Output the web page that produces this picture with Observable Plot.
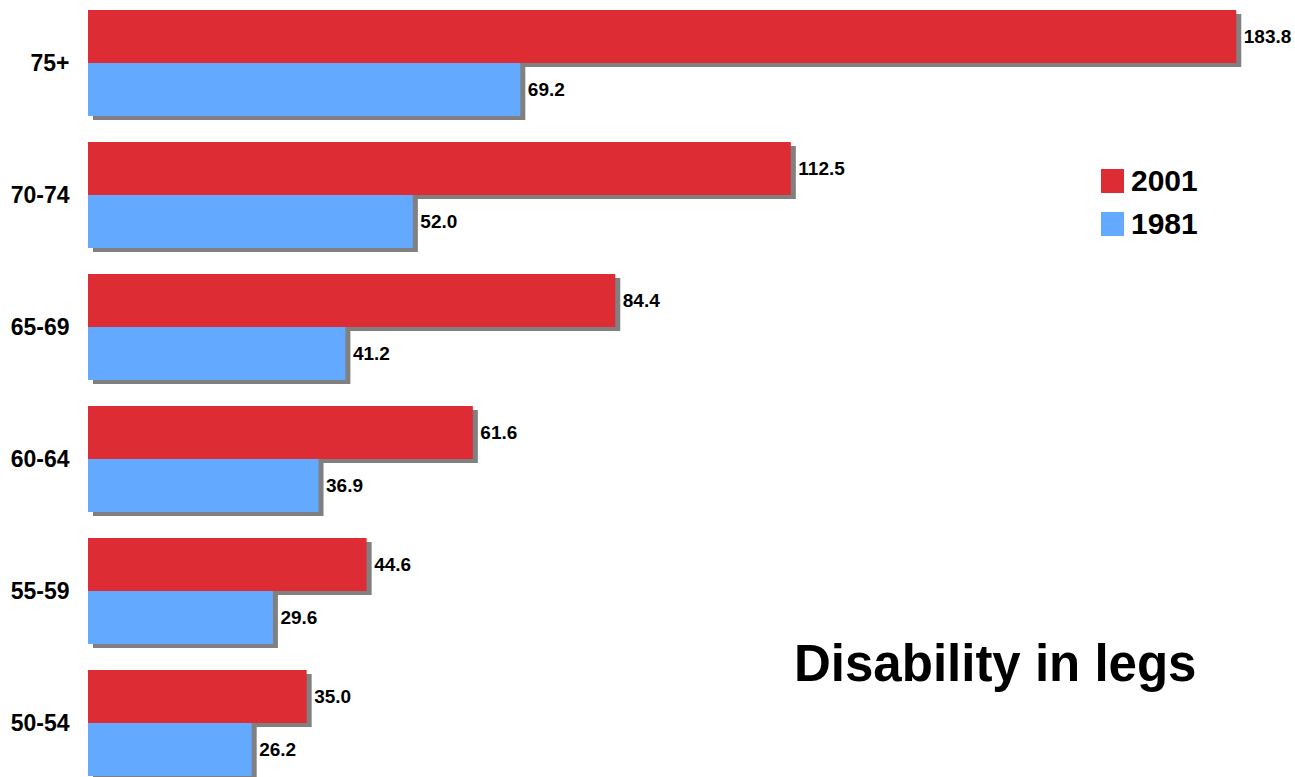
<!DOCTYPE html>
<html>
<head>
<meta charset="utf-8">
<script src="https://cdn.jsdelivr.net/npm/d3@7"></script>
<script src="https://cdn.jsdelivr.net/npm/@observablehq/plot@0.6"></script>
<style>
  html, body { margin: 0; padding: 0; background: #fff; }
  #wrap { position: relative; width: 1295px; height: 777px; font-family: Arial, "Liberation Sans", sans-serif; }
  #wrap svg { font-family: Arial, "Liberation Sans", sans-serif; font-weight: bold; }
  .legend { position: absolute; left: 1101px; top: 159px; font-weight: bold; font-size: 30px; color: #000; }
  .legend .row { display: flex; align-items: center; height: 43px; }
  .legend .sw { width: 23px; height: 24px; margin-right: 7px; }
  .title { position: absolute; left: 794px; top: 634px; font-weight: bold; font-size: 51px; color: #000; white-space: nowrap; }
</style>
</head>
<body>
<div id="wrap"></div>
<script>
const ages = ["75+", "70-74", "65-69", "60-64", "55-59", "50-54"];
const years = ["2001", "1981"];
const v2001 = [183.8, 112.5, 84.4, 61.6, 44.6, 35.0];
const v1981 = [69.2, 52.0, 41.2, 36.9, 29.6, 26.2];
const colors = ["#DD2C34", "#63A9FF"];
const titleText = "Disability in legs";

const data = [];
ages.forEach((a, i) => {
  data.push({age: a, year: "2001", value: v2001[i]});
  data.push({age: a, year: "1981", value: v1981[i]});
});

const chart = Plot.plot({
  width: 1295,
  height: 777,
  marginLeft: 88,
  marginRight: 20,
  marginTop: 9,
  marginBottom: 1,
  x: {domain: [0, 190], axis: null},
  y: {domain: years, axis: null, padding: 0},
  fy: {domain: ages, paddingInner: 0.198, paddingOuter: 0, label: null},
  color: {domain: years, range: colors},
  marks: [
    Plot.axisFy({anchor: "left", tickSize: 0, tickPadding: 19, label: null, fontSize: 23, fontWeight: "bold", fill: "#000"}),
    Plot.barX(data, {x: "value", y: "year", fy: "age", fill: "#808080", dx: 5, dy: 4}),
    Plot.barX(data, {x: "value", y: "year", fy: "age", fill: "year"}),
    Plot.text(data, {x: "value", y: "year", fy: "age", text: d => d.value.toFixed(1), textAnchor: "start", dx: 7, fontSize: 19, fontWeight: "bold", fill: "#000"})
  ]
});

const wrap = document.getElementById("wrap");
wrap.appendChild(chart);

const legend = document.createElement("div");
legend.className = "legend";
years.forEach((y, i) => {
  const row = document.createElement("div");
  row.className = "row";
  const sw = document.createElement("div");
  sw.className = "sw";
  sw.style.background = colors[i];
  const lab = document.createElement("span");
  lab.textContent = y;
  row.appendChild(sw);
  row.appendChild(lab);
  legend.appendChild(row);
});
wrap.appendChild(legend);

const title = document.createElement("div");
title.className = "title";
title.textContent = titleText;
wrap.appendChild(title);
</script>
</body>
</html>
